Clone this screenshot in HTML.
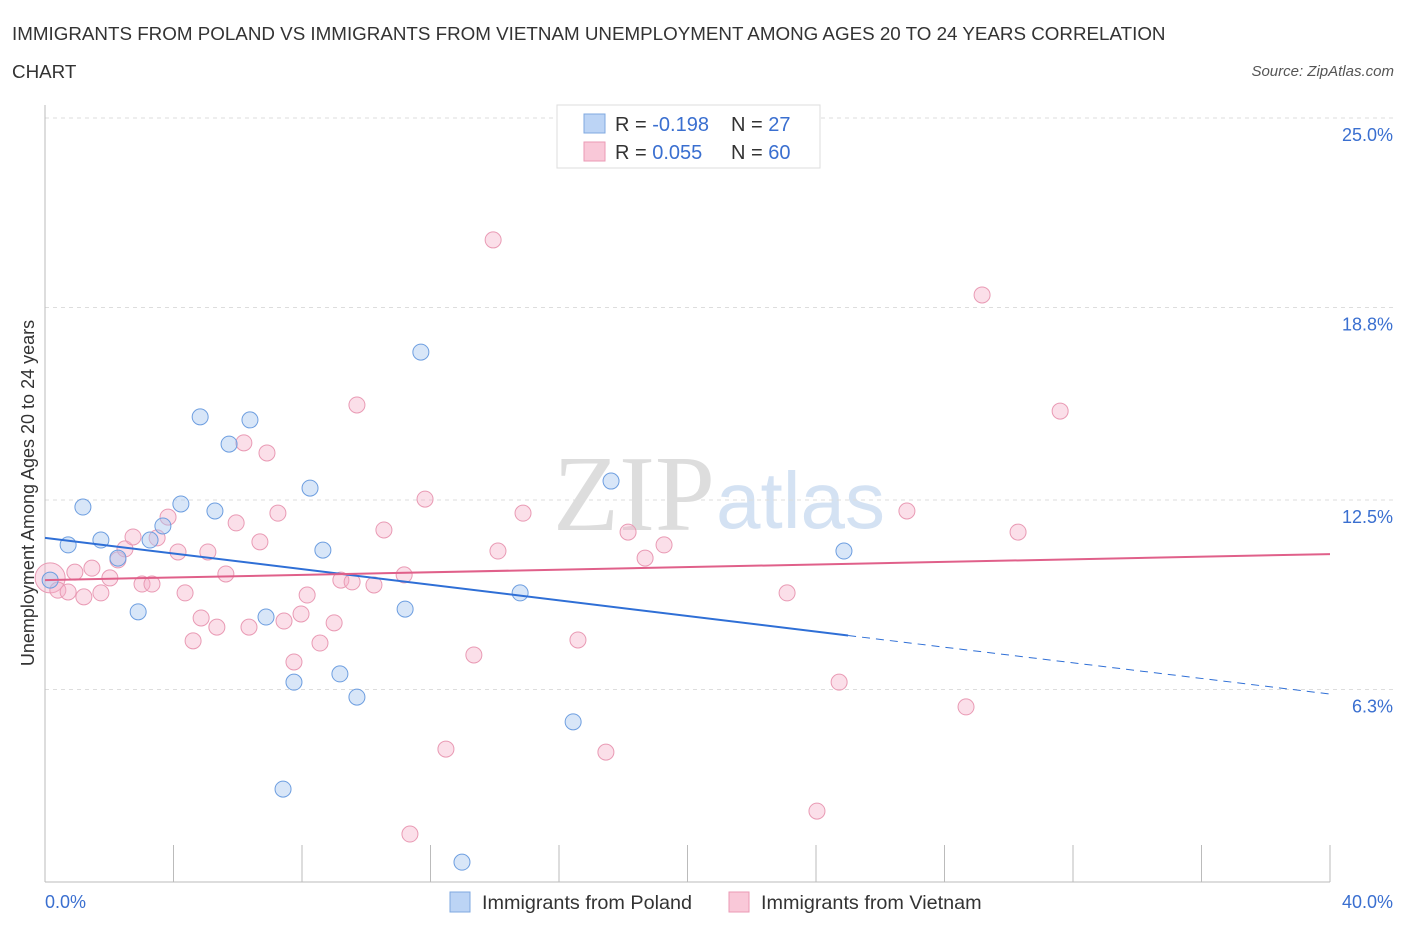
<!DOCTYPE html>
<html><head><meta charset="utf-8"><style>
body{margin:0;background:#fff;font-family:"Liberation Sans",sans-serif;}
svg{display:block}
</style></head><body>
<svg id="c" width="1406" height="930">
<text x="12" y="40" font-size="18.8" fill="#333">IMMIGRANTS FROM POLAND VS IMMIGRANTS FROM VIETNAM UNEMPLOYMENT AMONG AGES 20 TO 24 YEARS CORRELATION</text>
<text x="12" y="78" font-size="18.8" fill="#333">CHART</text>
<text x="1394" y="76" font-size="15" fill="#555" text-anchor="end" font-style="italic">Source: ZipAtlas.com</text>
<text x="715" y="530" font-size="108" fill="#ddd" text-anchor="end" font-family="Liberation Serif">ZIP</text>
<text x="716" y="528" font-size="80" fill="#d4e2f3">atlas</text>
<text x="34" y="493" font-size="18" fill="#333" text-anchor="middle" transform="rotate(-90 34 493)">Unemployment Among Ages 20 to 24 years</text>
<g id="grid"></g><g id="marks"></g>
<g>
<rect x="557" y="105" width="263" height="63" fill="#fff" stroke="#ddd"/>
<rect x="584" y="114" width="21" height="19" fill="#bcd4f5" stroke="#7fa8e0"/>
<rect x="584" y="142" width="21" height="19" fill="#f9c8d8" stroke="#eb9ab5"/>
<text x="615" y="131" font-size="20" fill="#333">R = <tspan fill="#3a6fd0">-0.198</tspan></text>
<text x="731" y="131" font-size="20" fill="#333">N = <tspan fill="#3a6fd0"> 27</tspan></text>
<text x="615" y="159" font-size="20" fill="#333">R = <tspan fill="#3a6fd0"> 0.055</tspan></text>
<text x="731" y="159" font-size="20" fill="#333">N = <tspan fill="#3a6fd0">60</tspan></text>
</g>
<g>
<rect x="450" y="892" width="20" height="20" fill="#bcd4f5" stroke="#7fa8e0"/>
<text x="482" y="909" font-size="19.8" fill="#333">Immigrants from Poland</text>
<rect x="729" y="892" width="20" height="20" fill="#f9c8d8" stroke="#eb9ab5"/>
<text x="761" y="909" font-size="19.8" fill="#333">Immigrants from Vietnam</text>
</g>
</svg>
<script>
const yTicks=[25.0,18.8,12.5,6.3];
const yTickLabels=["25.0%","18.8%","12.5%","6.3%"];
const xEndLabels=["0.0%","40.0%"];
const polandX=[0.16,0.72,1.18,1.74,2.27,2.90,3.27,3.67,4.23,4.83,5.29,5.73,6.38,6.88,7.41,7.75,8.25,8.65,9.18,9.71,11.21,11.70,12.98,14.79,16.44,17.62,24.87];
const polandY=[9.88,11.03,12.27,11.19,10.60,8.84,11.19,11.65,12.37,15.22,12.14,14.33,15.12,8.67,3.04,6.54,12.89,10.86,6.81,6.05,8.93,17.34,0.65,9.46,5.24,13.12,10.83];
const vietX=[0.16,0.40,0.72,0.93,1.21,1.46,1.74,2.02,2.27,2.49,2.74,3.02,3.33,3.49,3.83,4.14,4.36,4.61,4.86,5.07,5.35,5.63,5.95,6.19,6.35,6.69,6.91,7.25,7.44,7.75,7.97,8.16,8.56,9.00,9.21,9.56,9.71,10.24,10.55,11.18,11.36,11.83,12.48,13.35,13.95,14.10,14.88,16.59,17.46,18.15,18.68,19.27,23.10,24.03,24.72,26.83,28.67,29.17,30.29,31.60];
const vietY=[9.95,9.55,9.49,10.14,9.33,10.27,9.46,9.95,10.54,10.90,11.29,9.75,9.75,11.26,11.94,10.80,9.46,7.89,8.64,10.80,8.34,10.08,11.75,14.37,8.34,11.13,14.04,12.07,8.54,7.20,8.77,9.39,7.82,8.48,9.88,9.82,15.61,9.72,11.52,10.05,1.57,12.53,4.35,7.43,21.01,10.83,12.07,7.92,4.25,11.45,10.60,11.03,9.46,2.32,6.54,12.14,5.73,19.21,11.45,15.41];
const polandTrend=[11.26,6.15];
const vietTrend=[9.88,10.73];
const polandSolidEnd=25.0;
const NS="http://www.w3.org/2000/svg";
const X0=45,X1=1330,Y0=882,YT=118;
const sx=v=>X0+(X1-X0)*v/40;
const sy=v=>Y0-(Y0-YT)*v/25;
function mk(t,a,p){const e=document.createElementNS(NS,t);for(const k in a)e.setAttribute(k,a[k]);p.appendChild(e);return e;}
const grid=document.getElementById('grid'),marks=document.getElementById('marks');
yTicks.forEach((t,i)=>{
 const l=mk('line',{x1:X0,x2:1394,y1:sy(t),y2:sy(t),stroke:'#ddd','stroke-dasharray':'4 4'},grid);
 
 
 const tx=mk('text',{x:1393,y:sy(t)+23,'font-size':18,fill:'#3a6fd0','text-anchor':'end'},grid);
 tx.textContent=yTickLabels[i];
 
 
});
const ax=mk('line',{x1:X0,x2:X0,y1:105,y2:Y0,stroke:'#bbb'},grid);


const bx=mk('line',{x1:X0,x2:X1,y1:Y0,y2:Y0,stroke:'#bbb'},grid);


for(let i=0;i<=10;i++){const t=mk('line',{x1:sx(i*4),x2:sx(i*4),y1:Y0-37,y2:Y0,stroke:'#bbb'},grid);
 
 }
[[0,'start',X0],[1,'end',1393]].forEach(([i,a,x])=>{const t=mk('text',{x:x,y:908,'font-size':18,fill:'#3a6fd0','text-anchor':a},grid);t.textContent=xEndLabels[i];
 
 });
const tv=(tr,x)=>tr[0]+(tr[1]-tr[0])*x/40;
vietX.forEach((x,i)=>{const c=mk('circle',{cx:sx(x),cy:sy(vietY[i]),r:i==0?15:8,fill:'rgba(244,176,200,0.4)',stroke:'#e99ab4','stroke-width':1},marks);
 
 });
polandX.forEach((x,i)=>{const c=mk('circle',{cx:sx(x),cy:sy(polandY[i]),r:8,fill:'rgba(168,200,240,0.45)',stroke:'#6d9ee0','stroke-width':1},marks);
 
 });
const l1=mk('line',{x1:sx(0),y1:sy(tv(polandTrend,0)),x2:sx(polandSolidEnd),y2:sy(tv(polandTrend,polandSolidEnd)),stroke:'#2f6fd6','stroke-width':2},marks);


const l2=mk('line',{x1:sx(polandSolidEnd),y1:sy(tv(polandTrend,polandSolidEnd)),x2:sx(40),y2:sy(tv(polandTrend,40)),stroke:'#2f6fd6','stroke-width':1,'stroke-dasharray':'8 6'},marks);


const l3=mk('line',{x1:sx(0),y1:sy(tv(vietTrend,0)),x2:sx(40),y2:sy(tv(vietTrend,40)),stroke:'#e0608a','stroke-width':2},marks);


</script>
</body></html>
